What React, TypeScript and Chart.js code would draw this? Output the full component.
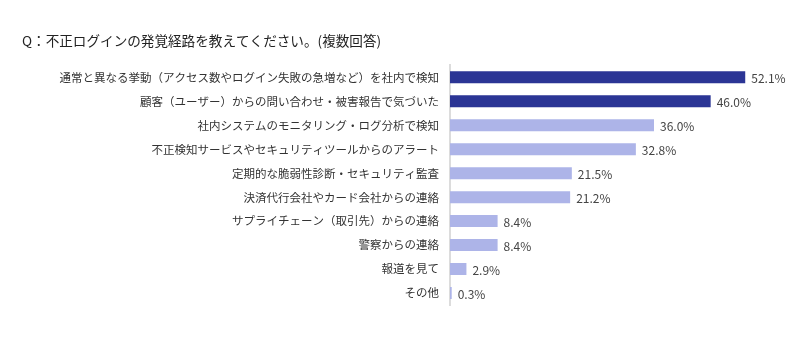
import React, { useEffect, useRef } from "react";
import { Chart, registerables } from "chart.js";

Chart.register(...registerables);

const titleText = "Q：不正ログインの発覚経路を教えてください。(複数回答)";

const categories = [
  "通常と異なる挙動（アクセス数やログイン失敗の急増など）を社内で検知",
  "顧客（ユーザー）からの問い合わせ・被害報告で気づいた",
  "社内システムのモニタリング・ログ分析で検知",
  "不正検知サービスやセキュリティツールからのアラート",
  "定期的な脆弱性診断・セキュリティ監査",
  "決済代行会社やカード会社からの連絡",
  "サプライチェーン（取引先）からの連絡",
  "警察からの連絡",
  "報道を見て",
  "その他",
];

const values = [52.1, 46.0, 36.0, 32.8, 21.5, 21.2, 8.4, 8.4, 2.9, 0.3];

const highlightCount = 2;
const darkColor = "#2b3595";
const lightColor = "#adb4e8";

const FONT = "'Noto Sans CJK JP', 'Noto Sans', sans-serif";

const valueLabelPlugin = {
  id: "valueLabels",
  afterDatasetsDraw(chart: any) {
    const ctx = chart.ctx;
    const meta = chart.getDatasetMeta(0);
    ctx.save();
    ctx.font = `12px ${FONT}`;
    ctx.fillStyle = "#444444";
    ctx.textAlign = "left";
    ctx.textBaseline = "middle";
    meta.data.forEach((bar: any, i: number) => {
      ctx.fillText(values[i].toFixed(1) + "%", bar.x + 6, bar.y + 1);
    });
    ctx.restore();
  },
};

export default function App() {
  const canvasRef = useRef<HTMLCanvasElement | null>(null);

  useEffect(() => {
    if (!canvasRef.current) return;
    const chart = new Chart(canvasRef.current, {
      type: "bar",
      data: {
        labels: categories,
        datasets: [
          {
            data: values,
            backgroundColor: values.map((_, i) =>
              i < highlightCount ? darkColor : lightColor
            ),
            categoryPercentage: 0.5,
            barPercentage: 1,
            borderWidth: 0,
          },
        ],
      },
      plugins: [valueLabelPlugin],
      options: {
        indexAxis: "y",
        animation: false,
        responsive: false,
        maintainAspectRatio: false,
        layout: { padding: { left: 22, right: 10, top: 0, bottom: 44 } },
        plugins: {
          legend: { display: false },
          tooltip: { enabled: false },
          title: {
            display: true,
            text: titleText,
            align: "start",
            color: "#222222",
            font: { family: FONT, size: 13.6, weight: "normal" },
            padding: { top: 33, bottom: 16 },
          },
        },
        scales: {
          x: {
            display: false,
            min: 0,
            max: 60,
          },
          y: {
            afterFit(scale: any) {
              scale.width = 428;
            },
            grid: { display: false, drawTicks: false },
            border: { display: true, color: "#dcdcdc", width: 2 },
            ticks: {
              color: "#333333",
              padding: 11,
              autoSkip: false,
              font: { family: FONT, size: 11.5 },
            },
          },
        },
      },
    } as any);
    return () => chart.destroy();
  }, []);

  return (
    <div style={{ position: "absolute", left: 0, top: 0, width: 800, height: 349, background: "#fff" }}>
      <canvas ref={canvasRef} width={800} height={349} style={{ width: 800, height: 349 }} />
    </div>
  );
}
